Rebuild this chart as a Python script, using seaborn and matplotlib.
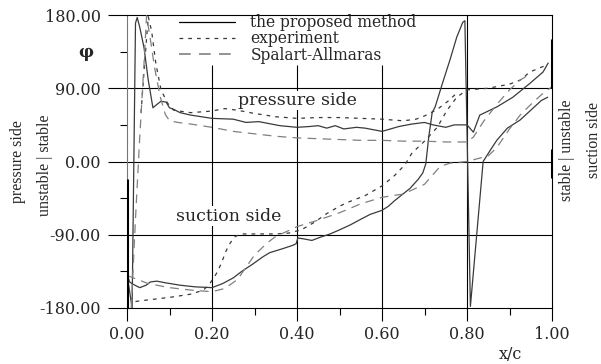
import numpy as np
import pandas as pd
import matplotlib
matplotlib.use("Agg")
import matplotlib.pyplot as plt
from matplotlib.lines import Line2D
import seaborn as sns

# ---------------- data ----------------
prop_ps_x = [0.000, 0.012, 0.020, 0.024, 0.030, 0.040, 0.050, 0.061, 0.070, 0.080, 0.092, 0.100,
             0.110, 0.125, 0.150, 0.175, 0.200, 0.250, 0.280, 0.310, 0.330, 0.360, 0.400, 0.430,
             0.450, 0.470, 0.490, 0.510, 0.540, 0.560, 0.600, 0.640, 0.670, 0.700, 0.720, 0.750,
             0.770, 0.800, 0.815, 0.830, 0.870, 0.908, 0.948, 0.979, 0.991]
prop_ps_phi = [-138, -180, 170, 177, 165, 140, 100, 66, 70, 74, 73, 66,
               64, 60, 57, 55, 53, 52, 48, 49, 47, 44, 42, 43,
               44, 41, 44, 40, 42, 41, 37, 43, 46, 48, 45, 42,
               45, 45, 36, 57, 67, 79, 96, 110, 121]

prop_ss_x = [0.000, 0.006, 0.015, 0.030, 0.045, 0.055, 0.070, 0.090, 0.125, 0.160, 0.200, 0.225,
             0.250, 0.270, 0.296, 0.320, 0.336, 0.367, 0.390, 0.398, 0.402, 0.415, 0.435, 0.455,
             0.478, 0.500, 0.525, 0.550, 0.572, 0.600, 0.615, 0.630, 0.666, 0.685, 0.696, 0.703,
             0.710, 0.718, 0.725, 0.741, 0.760, 0.776, 0.790, 0.795, 0.808, 0.838, 0.855, 0.870,
             0.895, 0.925, 0.950, 0.975, 0.990]
prop_ss_phi = [-138, -148, -151, -155, -152, -148, -147, -149, -152, -154, -155, -150,
               -143, -135, -126, -117, -112, -107, -103, -101, -94, -95, -97, -93,
               -89, -84, -78, -71, -65, -60, -55, -48, -33, -22, -14, -3,
               30, 60, 67, 94, 125, 153, 171, 173, -178, 0, 14, 26,
               41, 51, 63, 75, 79]

exp_ps_x = [0.033, 0.040, 0.050, 0.058, 0.068, 0.080, 0.095, 0.110, 0.150, 0.200, 0.230, 0.260,
            0.300, 0.350, 0.400, 0.450, 0.500, 0.550, 0.600, 0.650, 0.680, 0.700, 0.730, 0.755,
            0.780]
exp_ps_phi = [60, 110, 178, 160, 120, 88, 72, 63, 60, 62, 65, 63,
              59, 55, 53, 54, 54, 53, 52, 50, 52, 56, 64, 74,
              86]

exp_ss_x = [0.020, 0.050, 0.100, 0.150, 0.180, 0.195, 0.210, 0.222, 0.233, 0.243, 0.255, 0.270,
            0.300, 0.350, 0.380, 0.410, 0.440, 0.470, 0.500, 0.520, 0.560, 0.600, 0.630, 0.654,
            0.670, 0.700, 0.730, 0.753, 0.776, 0.800, 0.850, 0.900, 0.925, 0.948, 0.985]
exp_ss_phi = [-172, -170, -167, -163, -158, -150, -138, -125, -110, -100, -92, -89,
              -89, -89, -88, -84, -75, -64, -55, -50, -42, -30, -17, -4,
              10, 25, 42, 63, 79, 88, 90, 95, 100, 110, 118]

sa_ps_x = [0.010, 0.020, 0.030, 0.040, 0.046, 0.055, 0.065, 0.078, 0.090, 0.100, 0.120, 0.150,
           0.200, 0.250, 0.300, 0.350, 0.400, 0.450, 0.500, 0.550, 0.600, 0.650, 0.700, 0.750,
           0.800, 0.815, 0.840, 0.870, 0.900, 0.925, 0.950]
sa_ps_phi = [-180, -70, 30, 120, 179, 150, 115, 80, 58, 50, 48, 46,
             42, 37, 34, 31, 29, 28, 27, 26, 26, 25, 25, 24,
             24, 30, 50, 70, 88, 100, 108]

sa_ss_x = [0.000, 0.050, 0.100, 0.150, 0.200, 0.230, 0.260, 0.280, 0.300, 0.330, 0.350, 0.380,
           0.400, 0.450, 0.500, 0.550, 0.600, 0.650, 0.700, 0.737, 0.760, 0.800, 0.850, 0.870,
           0.900, 0.925, 0.950, 0.975, 1.000]
sa_ss_phi = [-140, -150, -155, -158, -160, -156, -145, -130, -115, -100, -92, -85,
             -80, -72, -63, -52, -44, -40, -28, -6, -2, 0, 7, 17,
             40, 57, 70, 82, 92]

# thick vertical bars at the leading/trailing edge (x, phi_low, phi_high)
edge_x = [0.0, 1.0, 1.0]
edge_lo = [-180, 90, -20]
edge_hi = [-21, 150, 15]

series_names = ["the proposed method", "experiment", "Spalart-Allmaras"]
y_ticks = [-180, -90, 0, 90, 180]
y_ticklabels = ["-180.00", "-90.00", "0.00", "90.00", "180.00"]
x_ticks = [0.0, 0.2, 0.4, 0.6, 0.8, 1.0]
x_ticklabels = ["0.00", "0.20", "0.40", "0.60", "0.80", "1.00"]
grid_phi = [90, 0, -90]
grid_x_short = [0.2, 0.4, 0.6]
grid_x_short_top = 118
grid_x_full = [0.8]

# ---------------- build table ----------------
rows = []
for name, side, xs, ys in [
    (series_names[0], "ps", prop_ps_x, prop_ps_phi),
    (series_names[0], "ss", prop_ss_x, prop_ss_phi),
    (series_names[1], "ps", exp_ps_x, exp_ps_phi),
    (series_names[1], "ss", exp_ss_x, exp_ss_phi),
    (series_names[2], "ps", sa_ps_x, sa_ps_phi),
    (series_names[2], "ss", sa_ss_x, sa_ss_phi),
]:
    for i, (a, b) in enumerate(zip(xs, ys)):
        rows.append({"x": a, "phi": b, "series": name, "side": side, "order": i})
df = pd.DataFrame(rows)

sns.set_theme(style="white")
plt.rcParams["font.family"] = ["DejaVu Serif"]

colors = {series_names[0]: "#3a3a3a", series_names[1]: "#3a3a3a", series_names[2]: "#808080"}
dashes = {series_names[0]: "", series_names[1]: (3, 4), series_names[2]: (7, 5)}

fig = plt.figure(figsize=(6.01, 3.64), dpi=100)
ax = fig.add_axes([127 / 601, 1 - 308 / 364, 425 / 601, 293 / 364])

# grid lines
for g in grid_phi:
    ax.axhline(g, color="black", lw=0.8, zorder=1)
ax.vlines(grid_x_short, -180, grid_x_short_top, color="black", lw=0.8, zorder=1)
ax.vlines(grid_x_full, -180, 180, color="black", lw=0.8, zorder=1)

sns.lineplot(data=df, x="x", y="phi", hue="series", style="series", units="side",
             estimator=None, sort=False, palette=colors, dashes=dashes,
             linewidth=0.9, legend=False, ax=ax, zorder=3)

ax.vlines(edge_x, edge_lo, edge_hi, color="black", lw=2.2, zorder=4)

ax.set_xlim(0, 1)
ax.set_ylim(-180, 180)
ax.set_xticks(x_ticks)
ax.set_xticklabels(x_ticklabels)
ax.set_yticks(y_ticks)
ax.set_yticklabels(y_ticklabels)
ax.set_xticks(np.arange(0.1, 1.0, 0.2), minor=True)
ax.set_yticks([-135, -45, 45, 135], minor=True)
ax.tick_params(axis="x", which="major", direction="out", length=9, width=0.8,
               color="black", labelsize=11.5, pad=4)
ax.tick_params(axis="x", which="minor", direction="out", length=5, width=0.8, color="black")
ax.tick_params(axis="y", which="major", direction="out", length=14, width=0.8,
               color="black", labelsize=11.5, pad=5)
ax.tick_params(axis="y", which="minor", direction="out", length=5, width=0.8, color="black")
ax.tick_params(bottom=True, left=True, which="both")
for s in ax.spines.values():
    s.set_visible(True)
    s.set_color("black")
    s.set_linewidth(0.8)
ax.spines["left"].set_color("#777777")

ax.set_xlabel("x/c", fontsize=11.5)
ax.xaxis.set_label_coords((510 - 127) / 425, -0.13)
ax.set_ylabel("")

# in-plot labels
ax.text(0.4, 75, "pressure side", ha="center", va="center", fontsize=12.5,
        bbox=dict(fc="white", ec="none", pad=1), zorder=2)
ax.text(0.24, -67, "suction side", ha="center", va="center", fontsize=12.5,
        bbox=dict(fc="white", ec="none", pad=1), zorder=2)
ax.text(-0.098, 134, "φ", ha="center", va="center", fontsize=12, fontweight="bold")

# side labels
fig.text(18 / 601, 1 - 162 / 364, "pressure side", rotation=90, ha="center", va="center",
         fontsize=11.5, family=["Liberation Serif"])
fig.text(45 / 601, 1 - 165 / 364, "unstable | stable", rotation=90, ha="center", va="center",
         fontsize=11.5, family=["Liberation Serif"])
fig.text(567 / 601, 1 - 150 / 364, "stable | unstable", rotation=90, ha="center", va="center",
         fontsize=11.5, family=["Liberation Serif"])
fig.text(594 / 601, 1 - 140 / 364, "suction side", rotation=90, ha="center", va="center",
         fontsize=11.5, family=["Liberation Serif"])

# legend
handles = [Line2D([], [], color="black", lw=0.9),
           Line2D([], [], color="#3a3a3a", lw=0.9, dashes=dashes[series_names[1]]),
           Line2D([], [], color="#808080", lw=1.2, dashes=dashes[series_names[2]])]
ax.legend(handles, series_names, loc="upper left", bbox_to_anchor=(0.10, 1.035),
          frameon=False, fontsize=11.2, handlelength=3.6, handletextpad=1.0,
          labelspacing=-0.05, borderaxespad=0.2)

fig.savefig("out.png", dpi=100)
